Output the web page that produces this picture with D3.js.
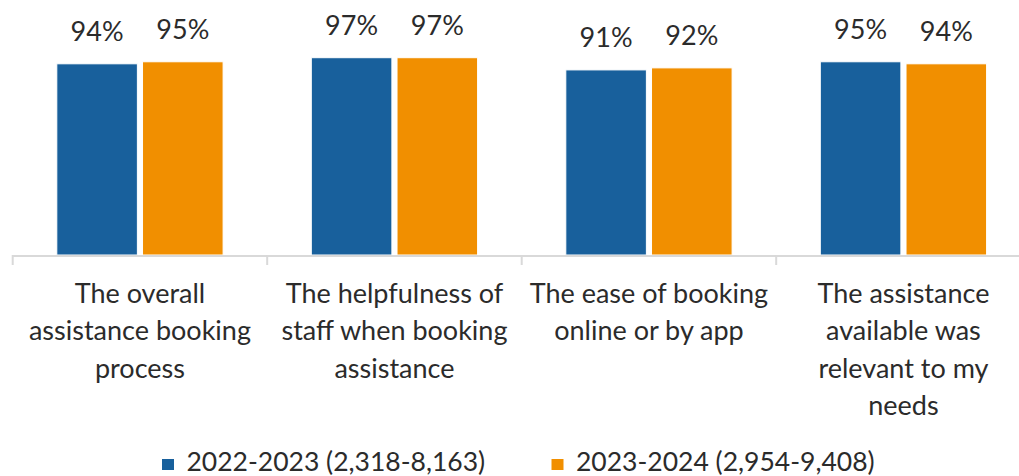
<!DOCTYPE html>
<html>
<head>
<meta charset="utf-8">
<script src="https://cdn.jsdelivr.net/npm/d3@7"></script>
<style>
  html, body { margin: 0; padding: 0; background: #fff; }
  svg { display: block; }
  text { font-family: Lato, "Noto Sans", sans-serif; fill: #2b2b2b; }
</style>
</head>
<body>
<svg id="chart" width="1019" height="476"></svg>
<script>
// Satisfaction with assistance booking, by survey year
const categories = [
  "The overall assistance booking process",
  "The helpfulness of staff when booking assistance",
  "The ease of booking online or by app",
  "The assistance available was relevant to my needs"
];
// Wrapped label lines for each category
const categoryLines = [
  ["The overall", "assistance booking", "process"],
  ["The helpfulness of", "staff when booking", "assistance"],
  ["The ease of booking", "online or by app"],
  ["The assistance", "available was", "relevant to my", "needs"]
];
const seriesNames = ["2022-2023 (2,318-8,163)", "2023-2024 (2,954-9,408)"];
const values2022 = [94, 97, 91, 95];
const values2023 = [95, 97, 92, 94];
const seriesColors = ["#18609c", "#f18f00"];

const seriesValues = [values2022, values2023];
const rows = categories.map((c, i) => ({
  category: c,
  values: seriesNames.map((s, j) => ({ series: s, value: seriesValues[j][i], color: seriesColors[j] }))
}));

const svg = d3.select("#chart");
const left = 12.7, step = 254.5;
const baseline = 255;

// Category slots (axis ticks sit at slot boundaries)
const xCat = d3.scaleBand().domain(categories).range([left, left + step * categories.length]).padding(0);
// Bar groups inside each slot
const x0 = d3.scaleBand().domain(categories).range(xCat.range())
  .paddingInner(0.3466).paddingOuter(0.1733);
const x1 = d3.scaleBand().domain(seriesNames).range([0, x0.bandwidth()]).paddingInner(0.06);
const y = d3.scaleLinear().domain([0, 100]).range([baseline, baseline - 203.4]);

// Bars
const groups = svg.append("g").selectAll("g").data(rows).join("g")
  .attr("transform", d => `translate(${x0(d.category)},0)`);

groups.selectAll("rect").data(d => d.values).join("rect")
  .attr("x", d => x1(d.series))
  .attr("y", d => y(d.value))
  .attr("width", x1.bandwidth())
  .attr("height", d => y(0) - y(d.value))
  .attr("fill", d => d.color)
  .attr("stroke", "#ffffff")
  .attr("stroke-width", 1);

// Value labels
groups.selectAll("text").data(d => d.values).join("text")
  .attr("x", d => x1(d.series) + x1.bandwidth() / 2)
  .attr("y", d => y(d.value) - 22.7)
  .attr("text-anchor", "middle")
  .style("font-size", "27px")
  .text(d => d.value + "%");

// Category axis: baseline with ticks between categories
const axis = svg.append("g");
axis.append("line")
  .attr("x1", xCat.range()[0]).attr("x2", xCat.range()[1])
  .attr("y1", baseline + 1).attr("y2", baseline + 1)
  .attr("stroke", "#d9d9d9").attr("stroke-width", 2);
axis.selectAll("line.tick").data(categories).join("line")
  .attr("class", "tick")
  .attr("x1", d => xCat(d)).attr("x2", d => xCat(d))
  .attr("y1", baseline).attr("y2", baseline + 10)
  .attr("stroke", "#d9d9d9").attr("stroke-width", 2);

// Wrapped category labels
const labels = axis.selectAll("text.cat").data(categories).join("text")
  .attr("class", "cat")
  .attr("text-anchor", "middle")
  .style("font-size", "27px")
  .attr("transform", d => `translate(${xCat(d) + xCat.bandwidth() / 2},303)`);
labels.selectAll("tspan").data((d, i) => categoryLines[i]).join("tspan")
  .attr("x", 0)
  .attr("y", (d, i) => i * 37.3)
  .text(d => d);

// Legend
const legendX = [162, 551.5];
const legend = svg.append("g").selectAll("g").data(seriesNames).join("g")
  .attr("transform", (d, i) => `translate(${legendX[i]},459)`);
legend.append("rect")
  .attr("width", 12).attr("height", 11)
  .attr("fill", (d, i) => seriesColors[i]);
legend.append("text")
  .attr("x", 24.5).attr("y", 11.5)
  .style("font-size", "26.5px")
  .text(d => d);
</script>
</body>
</html>
